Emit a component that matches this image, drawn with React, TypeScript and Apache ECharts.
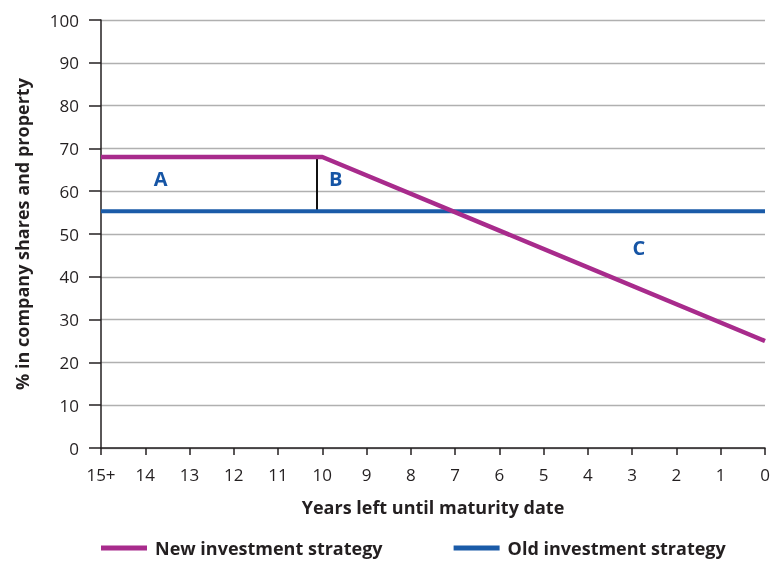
import React, { useEffect, useRef } from "react";
import * as echarts from "echarts";

const xTicks = [15, 14, 13, 12, 11, 10, 9, 8, 7, 6, 5, 4, 3, 2, 1, 0];
const newStrategy: [number, number][] = [[15, 68], [10, 68], [0, 25]];
const oldStrategy: [number, number][] = [[15, 55.3], [0, 55.3]];
const gapLine: [number, number][] = [[10.12, 55.3], [10.12, 68]];
const regionLabels = [
  { name: "A", value: [13.65, 63] },
  { name: "B", value: [9.7, 63] },
  { name: "C", value: [2.85, 46.8] },
];

const FONT = "'Open Sans', 'DejaVu Sans', sans-serif";
const MAGENTA = "#a82b8c";
const BLUE = "#1a5ba8";
const TEXT = "#231f20";

export default function App() {
  const ref = useRef<HTMLDivElement>(null);
  useEffect(() => {
    if (!ref.current) return;
    const chart = echarts.init(ref.current, undefined, { renderer: "svg" });
    chart.setOption({
      animation: false,
      textStyle: { fontFamily: FONT },
      grid: { left: 101, right: 10, top: 20, bottom: 114 },
      legend: {
        data: ["New investment strategy", "Old investment strategy"],
        left: 101,
        top: 539,
        padding: 0,
        icon: "rect",
        itemWidth: 46,
        itemHeight: 5,
        itemGap: 71,
        textStyle: {
          fontFamily: FONT,
          fontWeight: "bold",
          fontSize: 18,
          color: TEXT,
          padding: [0, 0, 0, 3],
        },
      },
      xAxis: {
        type: "value",
        inverse: true,
        min: 0,
        max: 15,
        interval: 1,
        name: "Years left until maturity date",
        nameLocation: "middle",
        nameGap: 50,
        nameTextStyle: { fontFamily: FONT, fontWeight: "bold", fontSize: 18, color: TEXT },
        axisLine: { show: true, onZero: false, lineStyle: { color: TEXT, width: 1.5 } },
        axisTick: { show: true, length: 7, lineStyle: { color: TEXT, width: 1.5 } },
        axisLabel: {
          fontSize: 17,
          color: TEXT,
          margin: 18,
          formatter: (v: number) => (v === xTicks[0] ? "15+" : String(v)),
        },
        splitLine: { show: false },
      },
      yAxis: {
        type: "value",
        position: "left",
        min: 0,
        max: 100,
        interval: 10,
        name: "% in company shares and property",
        nameLocation: "middle",
        nameGap: 70,
        nameTextStyle: { fontFamily: FONT, fontWeight: "bold", fontSize: 18, color: TEXT },
        axisLine: { show: true, onZero: false, lineStyle: { color: TEXT, width: 1.5 } },
        axisTick: { show: true, length: 12, lineStyle: { color: TEXT, width: 1.5 } },
        axisLabel: { fontSize: 17, color: TEXT, margin: 22 },
        splitLine: { show: true, lineStyle: { color: "#b0b0b0", width: 1.3 } },
      },
      series: [
        {
          name: "Old investment strategy",
          type: "line",
          data: oldStrategy,
          symbol: "none",
          lineStyle: { color: BLUE, width: 4 },
          itemStyle: { color: BLUE },
          z: 3,
        },
        {
          name: "New investment strategy",
          type: "line",
          data: newStrategy,
          symbol: "none",
          lineStyle: { color: MAGENTA, width: 4.5 },
          itemStyle: { color: MAGENTA },
          z: 4,
        },
        {
          name: "gap",
          type: "line",
          data: gapLine,
          symbol: "none",
          lineStyle: { color: "#111", width: 2 },
          z: 2,
        },
        {
          name: "labels",
          type: "scatter",
          data: regionLabels,
          symbolSize: 0,
          itemStyle: { opacity: 1, color: "#1859a8" },
          label: {
            show: true,
            position: "inside",
            formatter: "{b}",
            fontFamily: FONT,
            fontWeight: "bold",
            fontSize: 20,
            color: "#1655a5",
            opacity: 1,
          },
          z: 5,
        },
      ],
    });
    return () => chart.dispose();
  }, []);
  return (
    <div
      ref={ref}
      style={{ position: "fixed", left: 0, top: 0, width: 775, height: 562 }}
    />
  );
}
